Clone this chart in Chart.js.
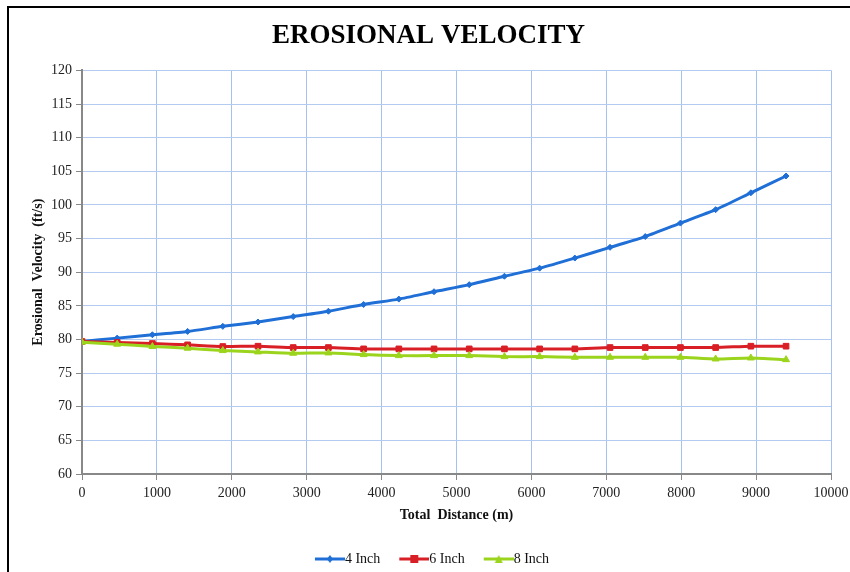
<!DOCTYPE html>
<html>
<head>
<meta charset="utf-8">
<script src="https://cdn.jsdelivr.net/npm/chart.js@4/dist/chart.umd.min.js"></script>
<style>
html, body { margin: 0; padding: 0; background: #fff; }
#wrap { position: relative; width: 850px; height: 572px; overflow: hidden; }
#frame { position: absolute; left: 7px; top: 6px; width: 843px; height: 564px; border: 2px solid #000; border-right: none; pointer-events: none; }
</style>
</head>
<body>
<div id="wrap">
  <canvas id="myChart" width="850" height="576"></canvas>
  <div id="frame"></div>
</div>
<script>
// distance along the line (m)
let distance = [0, 470, 940, 1410, 1880, 2350, 2820, 3290, 3760, 4230, 4700,
                5170, 5640, 6110, 6580, 7050, 7520, 7990, 8460, 8930, 9400];

// erosional velocity (ft/s) for each pipe size
let inch4 = [79.7, 80.2, 80.7, 81.2, 81.95, 82.6, 83.4, 84.2, 85.2, 86.0, 87.1,
             88.15, 89.4, 90.6, 92.1, 93.7, 95.3, 97.3, 99.3, 101.8, 104.3];
let inch6 = [79.7, 79.55, 79.4, 79.2, 78.95, 79.0, 78.8, 78.8, 78.6, 78.6, 78.6,
             78.6, 78.6, 78.6, 78.6, 78.8, 78.8, 78.8, 78.8, 79.0, 79.0];
let inch8 = [79.6, 79.3, 78.95, 78.7, 78.35, 78.15, 77.95, 78.0, 77.75, 77.6, 77.6,
             77.6, 77.45, 77.45, 77.35, 77.35, 77.35, 77.35, 77.1, 77.25, 77.0];

let seriesNames = ['4 Inch', '6 Inch', '8 Inch'];
let seriesColors = ['#1f6fd6', '#d91f26', '#9bd41c'];
let seriesMarkers = ['rectRot', 'rect', 'triangle'];

const serif = "'Liberation Serif', 'Times New Roman', serif";
const legendBox = 30;

function toPoints(values) {
    return values.map((v, i) => ({ x: distance[i], y: v }));
}

// legend picture: line with the marker in the middle, pushed to the right so it meets the text
function legendIcon(color, marker) {
    const c = document.createElement('canvas');
    c.width = legendBox + 14; c.height = 10;
    const g = c.getContext('2d');
    const x0 = c.width - 30;
    g.strokeStyle = color;
    g.fillStyle = color;
    g.lineWidth = 3;
    g.beginPath(); g.moveTo(x0, 5); g.lineTo(c.width, 5); g.stroke();
    const m = x0 + 15;
    g.beginPath();
    if (marker === 'rect') {
        g.rect(m - 4, 1, 8, 8);
    } else if (marker === 'triangle') {
        g.moveTo(m, 1); g.lineTo(m + 4, 9); g.lineTo(m - 4, 9); g.closePath();
    } else {
        g.moveTo(m, 1); g.lineTo(m + 3, 5); g.lineTo(m, 9); g.lineTo(m - 3, 5); g.closePath();
    }
    g.fill();
    return c;
}

let allValues = [inch4, inch6, inch8];
let datasets = allValues.map((vals, i) => ({
    label: seriesNames[i],
    data: toPoints(vals),
    borderColor: seriesColors[i],
    backgroundColor: seriesColors[i],
    borderWidth: 3,
    pointStyle: seriesMarkers[i],
    pointRadius: i === 0 ? 3 : 4,
    pointBorderWidth: 1,
    tension: 0.2,
    order: 2 - i
}));

const chart = document.getElementById('myChart').getContext('2d');
const myChart = new Chart(chart, {
    type: 'line',
    data: { datasets: datasets },
    options: {
        responsive: false,
        animation: false,
        layout: { padding: { left: 26, right: 19, top: 0, bottom: 0 } },
        plugins: {
            title: {
                display: true,
                text: 'EROSIONAL VELOCITY',
                color: '#000',
                font: { family: serif, size: 27, weight: 'bold' },
                padding: { top: 20, bottom: 18 }
            },
            legend: {
                position: 'bottom',
                labels: {
                    usePointStyle: true,
                    pointStyleWidth: legendBox,
                    padding: 12,
                    color: '#111',
                    font: { family: serif, size: 14 },
                    generateLabels: function (ch) {
                        return seriesNames.map((name, i) => ({
                            text: name,
                            pointStyle: legendIcon(seriesColors[i], seriesMarkers[i]),
                            fontColor: '#111',
                            lineWidth: 0,
                            datasetIndex: i
                        }));
                    }
                }
            },
            tooltip: { enabled: false }
        },
        scales: {
            x: {
                type: 'linear',
                min: 0,
                max: 10000,
                ticks: {
                    stepSize: 1000, color: '#222', font: { family: serif, size: 14 }, padding: 5, maxRotation: 0,
                    callback: (v) => String(v)
                },
                grid: { color: '#a6c1ef', tickColor: '#888', tickLength: 6 },
                border: { color: '#888', width: 2 },
                title: {
                    display: true,
                    text: 'Total  Distance (m)',
                    color: '#111',
                    font: { family: serif, size: 14, weight: 'bold' },
                    padding: { top: 4, bottom: 16 }
                },
                afterFit: function (scale) {
                    scale.height = 66;
                    scale.paddingRight = 0;
                }
            },
            y: {
                min: 60,
                max: 120,
                ticks: { stepSize: 5, color: '#222', font: { family: serif, size: 14 }, padding: 4 },
                grid: { color: '#b3cbf1', tickColor: '#888', tickLength: 6 },
                border: { color: '#888', width: 2 },
                title: {
                    display: true,
                    text: 'Erosional  Velocity  (ft/s)',
                    color: '#111',
                    font: { family: serif, size: 14, weight: 'bold' },
                    padding: { top: 4, bottom: 4 }
                },
                afterFit: function (scale) { scale.width = 56; }
            }
        }
    }
});
</script>
</body>
</html>
